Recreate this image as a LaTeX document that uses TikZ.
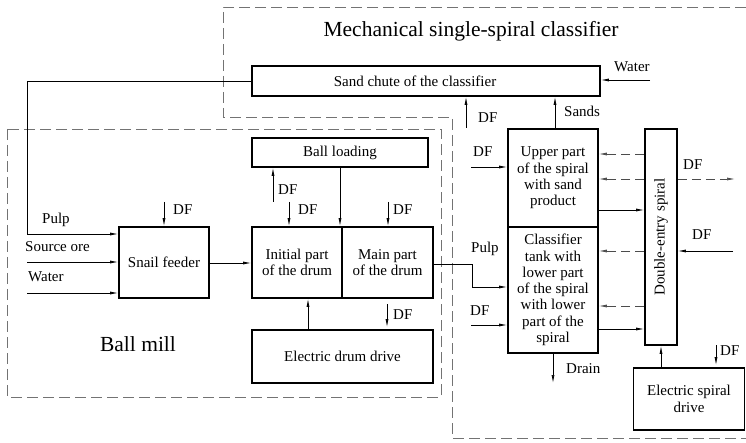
\documentclass[tikz,border=0pt]{standalone}
\usepackage{fontspec}
\setmainfont{Liberation Serif}
\usetikzlibrary{arrows.meta,calc}
\begin{document}
\begin{tikzpicture}[x=1pt,y=-1pt,
  box/.style={draw, line width=1.8pt, inner sep=0pt, align=center,
    font=\fontsize{15}{16.3}\selectfont},
  lbl/.style={inner sep=0pt, anchor=base west, font=\fontsize{15}{16.3}\selectfont},
  big/.style={inner sep=0pt, anchor=base, font=\fontsize{21.5}{24}\selectfont},
  arr/.style={line width=0.7pt, -{Latex[length=8pt,width=3pt]}},
  ln/.style={line width=0.7pt},
  darr/.style={line width=0.7pt, draw=black!70, dash pattern=on 9pt off 5pt, -{Latex[length=8pt,width=3pt]}},
  zone/.style={line width=0.7pt, draw=black!55, dash pattern=on 11pt off 5pt}]
\useasboundingbox (0,0) rectangle (746,443);

% zones
\draw[zone] (746,7) -- (223,7) -- (223,117) -- (452,117) -- (452,438) -- (746,438);
\draw[zone] (7,129) rectangle (441,397);

% titles
\node[big] (title) at (471,37) {Mechanical single-spiral classifier};
\node[big] (ballmill) at (138,351) {Ball mill};

% boxes
\node[box, minimum width=348pt, minimum height=30pt] (chute) at (426,81) {};
\node[inner sep=0pt, font=\fontsize{15}{16.3}\selectfont] (chutetxt) at (415,81) {Sand chute of the classifier};
\node[box, minimum width=90pt, minimum height=71pt] (snail) at (164,262.5) {Snail feeder};
\node[box, minimum width=90pt, minimum height=71pt] (init) at (297,262.5) {Initial part\\of the drum};
\node[box, minimum width=91pt, minimum height=71pt] (main) at (387.5,262.5) {Main part\\of the drum};
\node[box, minimum width=176pt, minimum height=29pt] (balls) at (340,152.5) {Ball loading};
\node[box, minimum width=181pt, minimum height=53pt] (edrive) at (342.5,356.5) {Electric drum drive};
\node[box, minimum width=90pt, minimum height=98pt] (upper) at (553,178) {Upper part\\of the spiral\\with sand\\product};
\node[box, minimum width=90pt, minimum height=126pt] (tank) at (553,290) {Classifier\\tank with\\lower part\\of the spiral\\with lower\\part of the\\spiral};
\node[box, minimum width=32pt, minimum height=216pt] (spiral) at (661,237) {};
\node[rotate=90, inner sep=0pt, font=\fontsize{15}{16.3}\selectfont] (spiraltxt) at (spiral.center) {Double-entry spiral};
\node[box, minimum width=111pt, minimum height=62pt] (sdrive) at (689,399) {Electric spiral\\drive};

% free ends
\coordinate (pulpcorner) at (27,81);
\coordinate (oreS) at (27,262);
\coordinate (waterS) at (27,293);
\coordinate (snailDF) at (164,202);
\coordinate (ballDF) at (273,202);
\coordinate (initDF) at (289,202);
\coordinate (mainDF) at (388,202);
\coordinate (mainDF2) at (387,304);
\coordinate (waterR) at (650,80);
\coordinate (chuteDF) at (466,128);
\coordinate (upDF) at (471,167);
\coordinate (tankDF) at (471,325);
\coordinate (pulpbend) at (472,264);
\coordinate (dfOut) at (735,179);
\coordinate (dfIn) at (733,251);
\coordinate (drain) at (553,383);
\coordinate (sdDF) at (716,345);

% ball mill connectors
\draw[arr] (chute.west |- pulpcorner) -- (pulpcorner) -- (pulpcorner |- 0,234) -- (snail.west |- 0,234);
\draw[arr] (oreS) -- (snail.west |- oreS);
\draw[arr] (waterS) -- (snail.west |- waterS);
\draw[arr] (snailDF) -- (snail.north -| snailDF);
\draw[arr] (snail.east |- 0,263) -- (init.west |- 0,263);
\draw[arr] (ballDF) -- (balls.south -| ballDF);
\draw[arr] (balls.south -| 340,0) -- (init.north -| 340,0);
\draw[arr] (initDF) -- (init.north -| initDF);
\draw[arr] (mainDF) -- (main.north -| mainDF);
\draw[arr] (edrive.north -| 308,0) -- (init.south -| 308,0);
\draw[arr] (mainDF2) -- ($(edrive.north -| mainDF2)+(0,-2)$);

% classifier connectors
\draw[arr] (main.east |- 0,264) -- (pulpbend) -- (pulpbend |- 0,287) -- (tank.west |- 0,287);
\draw[arr] (waterR) -- (chute.east |- waterR);
\draw[arr] (chuteDF) -- (chute.south -| chuteDF);
\draw[arr] (upper.north -| 555,0) -- (chute.south -| 555,0);
\draw[arr] (upDF) -- (upper.west |- upDF);
\draw[arr] (tankDF) -- (tank.west |- tankDF);
\draw[darr] (spiral.west |- 0,154) -- (upper.east |- 0,154);
\draw[darr] (spiral.west |- 0,179) -- (upper.east |- 0,179);
\draw[arr] (upper.east |- 0,210) -- (spiral.west |- 0,210);
\draw[darr] (spiral.east |- dfOut) -- (dfOut);
\draw[arr] (dfIn) -- (spiral.east |- dfIn);
\draw[darr] (spiral.west |- 0,251) -- (tank.east |- 0,251);
\draw[darr] (spiral.west |- 0,306) -- (tank.east |- 0,306);
\draw[arr] (tank.east |- 0,329) -- (spiral.west |- 0,329);
\draw[arr] (tank.south -| drain) -- (drain);
\draw[arr] (sdrive.north -| 661,0) -- (spiral.south -| 661,0);
\draw[arr] (sdDF) -- ($(sdrive.north -| sdDF)+(0,-2)$);

% labels
\node[lbl] (lWaterR) at (614,72) {Water};
\node[lbl] (lSands) at (564,117) {Sands};
\node[lbl] (lChuteDF) at (478,123) {DF};
\node[lbl] (lUpDF) at (473,157) {DF};
\node[lbl] (lDFout) at (683,170) {DF};
\node[lbl] (lPulpR) at (471,253) {Pulp};
\node[lbl] (lTankDF) at (470,315) {DF};
\node[lbl] (lDFin) at (692,240) {DF};
\node[lbl] (lDrain) at (566,373) {Drain};
\node[lbl] (lSdDF) at (720,355) {DF};
\node[lbl] (lMainDF2) at (393,319) {DF};
\node[lbl] (lMainDF) at (393,215) {DF};
\node[lbl] (lBallDF) at (278,195) {DF};
\node[lbl] (lInitDF) at (298,215) {DF};
\node[lbl] (lSnailDF) at (173,215) {DF};
\node[lbl] (lPulp) at (42,224) {Pulp};
\node[lbl] (lOre) at (25,252) {Source ore};
\node[lbl] (lWater) at (28,282) {Water};
\end{tikzpicture}
\end{document}
